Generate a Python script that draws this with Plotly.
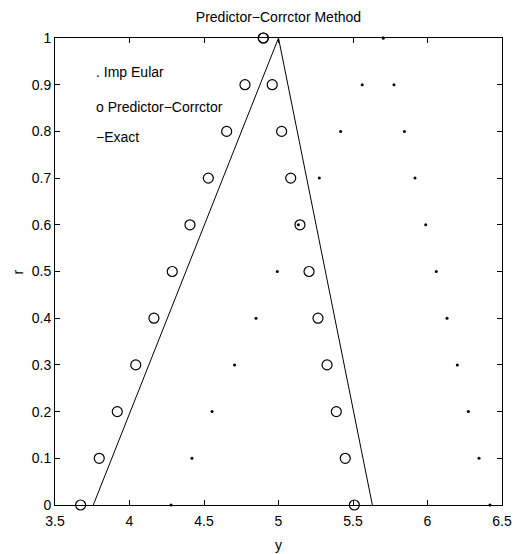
import plotly.graph_objects as go

# r levels (membership)
r_vals = [0.0, 0.1, 0.2, 0.3, 0.4, 0.5, 0.6, 0.7, 0.8, 0.9, 1.0]

# Improved Euler: left and right branch
imp_left = [4.279, 4.419, 4.554, 4.705, 4.849, 4.992, 5.133, 5.274, 5.417, 5.562, 5.703]
imp_right = [6.419, 6.346, 6.274, 6.200, 6.131, 6.059, 5.988, 5.916, 5.845, 5.775, 5.703]

# Predictor-Corrector: left and right branch
pc_left = [3.672, 3.797, 3.918, 4.042, 4.164, 4.287, 4.406, 4.529, 4.652, 4.775, 4.898]
pc_right = [5.509, 5.448, 5.388, 5.326, 5.265, 5.205, 5.144, 5.082, 5.021, 4.958, 4.898]

# Exact solution (triangle)
exact_x = [3.757, 5.0, 5.63]
exact_r = [0.0, 1.0, 0.0]

x_ticks = [3.5, 4, 4.5, 5, 5.5, 6, 6.5]
y_ticks = [0, 0.1, 0.2, 0.3, 0.4, 0.5, 0.6, 0.7, 0.8, 0.9, 1]

FONT = "Liberation Sans, Arial, Helvetica, sans-serif"
FS = 14

fig = go.Figure()

fig.add_trace(go.Scatter(
    x=exact_x, y=exact_r, mode="lines",
    line=dict(color="black", width=1), cliponaxis=False, showlegend=False))

fig.add_trace(go.Scatter(
    x=imp_left + imp_right, y=r_vals + r_vals, mode="markers",
    marker=dict(color="black", size=3, symbol="circle"),
    cliponaxis=False, showlegend=False))

fig.add_trace(go.Scatter(
    x=pc_left + pc_right, y=r_vals + r_vals, mode="markers",
    marker=dict(color="black", size=10, symbol="circle-open",
                line=dict(color="black", width=1.2)),
    cliponaxis=False, showlegend=False))

axis_common = dict(
    showline=True, linecolor="black", linewidth=1, mirror="ticks",
    ticks="inside", ticklen=5, tickcolor="black", tickwidth=1,
    showgrid=False, zeroline=False,
    tickfont=dict(family=FONT, size=FS, color="black"),
)

fig.update_xaxes(range=[3.5, 6.5], tickvals=x_ticks, ticklabelstandoff=3,
                 ticktext=[f"{v:g}" for v in x_ticks], **axis_common)
fig.update_yaxes(range=[0, 1], tickvals=y_ticks,
                 ticktext=[f"{v:g}" for v in y_ticks], **axis_common)

texts = [". Imp Eular", "o Predictor\u2212Corrctor", "\u2212Exact"]
text_y = [0.928, 0.853, 0.789]
for t, ty in zip(texts, text_y):
    fig.add_annotation(x=3.762, y=ty, xref="x", yref="y", text=t,
                       showarrow=False, xanchor="left", yanchor="middle",
                       font=dict(family=FONT, size=FS, color="black"))

fig.add_annotation(x=0.5, y=-0.0857, xref="paper", yref="paper", text="y",
                   showarrow=False, xanchor="center", yanchor="middle",
                   font=dict(family=FONT, size=FS, color="black"))
fig.add_annotation(x=-0.083, y=0.5, xref="paper", yref="paper", text="r",
                   showarrow=False, xanchor="center", yanchor="middle", textangle=-90,
                   font=dict(family=FONT, size=FS, color="black"))

fig.update_layout(
    width=523, height=554,
    margin=dict(l=55, r=21, t=38, b=49),
    paper_bgcolor="white", plot_bgcolor="white",
    title=dict(text="Predictor\u2212Corrctor Method", x=0.5325, xanchor="center",
               y=1 - 17 / 554, yanchor="middle", yref="container",
               font=dict(family=FONT, size=FS, color="black")),
)

fig.write_html("out.html")
